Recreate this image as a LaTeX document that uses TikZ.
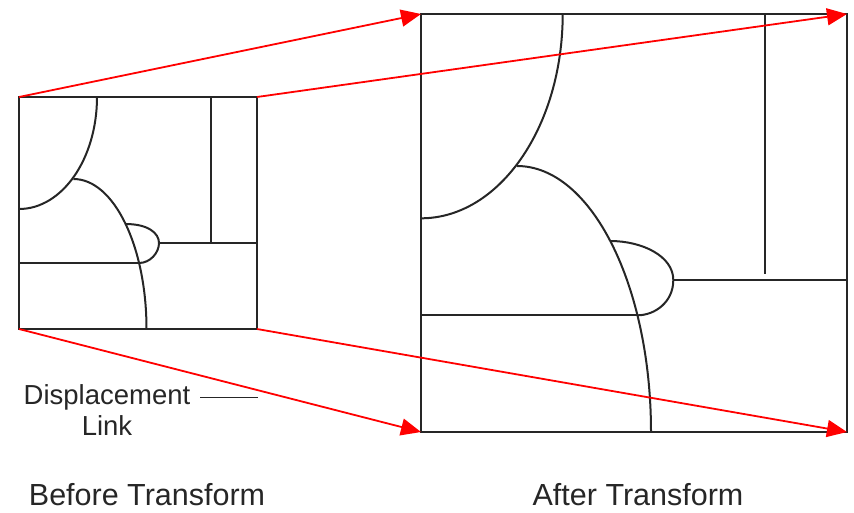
\documentclass[tikz,border=0pt]{standalone}
\usepackage{fontspec}
\setmainfont{Liberation Sans}
\usetikzlibrary{arrows.meta}
\tikzset{
  edge/.style={line width=2pt, draw=black!85},
  redarrow/.style={line width=1.8pt, draw=red, -{Triangle[length=20pt,width=17pt]}},
  label/.style={inner sep=0pt, text=black!85},
}
\begin{document}
\begin{tikzpicture}[x=1pt,y=-1pt]
\useasboundingbox (0,0) rectangle (854,512);
% small box corners
\coordinate (s1) at (19,97);
\coordinate (s2) at (257,97);
\coordinate (s3) at (257,329);
\coordinate (s4) at (19,329);
% large box corners
\coordinate (b1) at (421,14);
\coordinate (b2) at (847,14);
\coordinate (b3) at (847,432);
\coordinate (b4) at (421,432);

% small box
\draw[edge] (s1) rectangle (s3);
\draw[edge] (210.7,97) -- (210.7,243);
\draw[edge] (159,243) -- (257,243);
\draw[edge] (19,263) -- (139,263);
\draw[edge] (97,97) .. controls (97,158.9) and (62.1,209) .. (19,209);
\draw[edge] (73.5,179) .. controls (113.8,179) and (146.5,246.2) .. (146.5,329);
\draw[edge] (125.5,224) .. controls (148,224) and (159,233) .. (159,243)
  .. controls (159,253) and (150,263) .. (139,263);

% large box
\draw[edge] (b1) rectangle (b3);
\draw[edge] (765,14) -- (765,274);
\draw[edge] (673.3,280) -- (847,280);
\draw[edge] (421,315.3) -- (637.3,315.3);
\draw[edge] (562.7,14) .. controls (562.7,126.8) and (499.3,218.3) .. (421,218.3);
\draw[edge] (517,166) .. controls (591,166) and (651,285.1) .. (651,432);
\draw[edge] (610.3,241) .. controls (642,241) and (673.3,256) .. (673.3,280)
  .. controls (673.3,302) and (655,315.3) .. (637.3,315.3);

% red displacement links
\draw[redarrow] (s1) -- (b1);
\draw[redarrow] (s2) -- (b2);
\draw[redarrow] (s4) -- (b4);
\draw[redarrow] (s3) -- (b3);

% legend
\node[label, align=center, font=\fontsize{27.5}{31}\selectfont] (leg) at (107,410) {Displacement\\Link};
\coordinate (l1) at (200,397.5);
\coordinate (l2) at (258,397.5);
\draw[line width=1.6pt, draw=black!85] (l1) -- (l2);

\node[label, font=\fontsize{30.5}{36}\selectfont] (before) at (147,495) {Before Transform};
\node[label, font=\fontsize{30.5}{36}\selectfont] (after) at (638,495) {After Transform};
\end{tikzpicture}
\end{document}
